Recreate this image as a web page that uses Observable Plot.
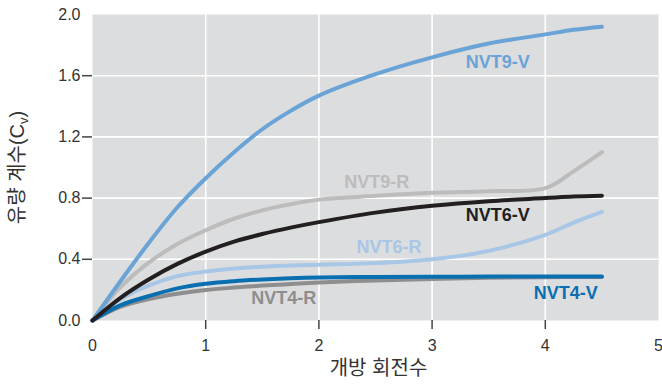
<!DOCTYPE html>
<html><head><meta charset="utf-8">
<script src="https://cdn.jsdelivr.net/npm/d3@7"></script>
<script src="https://cdn.jsdelivr.net/npm/@observablehq/plot@0.6"></script>
<style>body{margin:0;background:#fff}</style>
</head><body><div id="chart"></div>
<script>
// Data
const turns  = [0, 0.25, 0.5, 0.75, 1, 1.25, 1.5, 1.75, 2, 2.5, 3, 3.5, 4, 4.25, 4.5];
const nvt9R  = [0, 0.22, 0.38, 0.50, 0.59, 0.665, 0.72, 0.76, 0.79, 0.815, 0.835, 0.845, 0.865, 0.975, 1.10];
const nvt9V  = [0, 0.26, 0.51, 0.74, 0.93, 1.10, 1.25, 1.37, 1.47, 1.61, 1.72, 1.81, 1.87, 1.90, 1.92];
const nvt6R  = [0, 0.14, 0.23, 0.29, 0.32, 0.34, 0.352, 0.36, 0.365, 0.375, 0.40, 0.455, 0.56, 0.64, 0.71];
const nvt4R  = [0, 0.09, 0.14, 0.175, 0.20, 0.215, 0.228, 0.238, 0.248, 0.262, 0.272, 0.28, 0.283, 0.284, 0.285];
const nvt4V  = [0, 0.10, 0.16, 0.21, 0.24, 0.257, 0.268, 0.276, 0.281, 0.285, 0.286, 0.287, 0.287, 0.287, 0.287];
const nvt6V  = [0, 0.15, 0.27, 0.37, 0.45, 0.515, 0.565, 0.607, 0.643, 0.705, 0.75, 0.78, 0.80, 0.81, 0.815];

const seriesNames  = ["NVT9-R", "NVT9-V", "NVT6-R", "NVT4-R", "NVT4-V", "NVT6-V"];
const seriesValues = [nvt9R, nvt9V, nvt6R, nvt4R, nvt4V, nvt6V];
const seriesColors = ["#bcbcbc", "#6aa3d6", "#a8c6e6", "#8e8e8e", "#0a6fb1", "#231f20"];

// label anchor positions in data units
const labelX = [2.51, 3.58, 2.62, 1.69, 4.18, 3.58];
const labelY = [0.904, 1.69, 0.477, 0.144, 0.178, 0.686];

const xTicks = [0, 1, 2, 3, 4, 5];
const yTicks = [0, 0.4, 0.8, 1.2, 1.6, 2.0];
const xGrid  = [1, 2, 3, 4];
const yGrid  = [0.4, 0.8, 1.2, 1.6];

const xTitle = "개방 회전수";
const yTitle = "유량 계수(Cv)";

const rows = seriesNames.flatMap((s, i) => turns.map((t, j) => ({series: s, x: t, y: seriesValues[i][j]})));
const labels = seriesNames.map((s, i) => ({series: s, x: labelX[i], y: labelY[i]}));

const plot = Plot.plot({
  width: 662,
  height: 388,
  marginLeft: 92,
  marginRight: 4,
  marginTop: 14,
  marginBottom: 68,
  style: {fontFamily: "'Liberation Sans', Arial, 'Noto Sans CJK KR', sans-serif", background: "#fff"},
  x: {domain: [0, 5], label: null},
  y: {domain: [0, 2], label: null},
  color: {domain: seriesNames, range: seriesColors},
  marks: [
    Plot.frame({fill: "#dcdddf", stroke: null}),
    Plot.ruleX(xGrid, {stroke: "#fff", strokeWidth: 1.6}),
    Plot.ruleY(yGrid, {stroke: "#fff", strokeWidth: 1.6}),
    Plot.axisY(yTicks, {tickSize: 0, tickPadding: 12, tickFormat: d3.format(".1f"), fontSize: 16, fill: "#333", label: null}),
    Plot.axisY(yGrid, {tickSize: 10, tickFormat: () => "", stroke: "#444", strokeWidth: 1.5, label: null}),
    Plot.axisX(xTicks, {tickSize: 0, tickPadding: 19, tickFormat: d3.format("d"), fontSize: 16, fill: "#333", label: null}),
    Plot.axisX(xGrid, {tickSize: 9, tickFormat: () => "", stroke: "#444", strokeWidth: 1.5, label: null}),
    Plot.line(rows, {x: "x", y: "y", z: "series", stroke: "series", strokeWidth: 4, curve: "catmull-rom"}),
    Plot.text(labels, {x: "x", y: "y", text: "series", fill: "series", fontSize: 18, fontWeight: "bold"}),
    Plot.text([xTitle], {frameAnchor: "bottom", lineAnchor: "middle", dy: 48, dx: 3, fontSize: 20, fill: "#333"}),
    Plot.text([yTitle], {frameAnchor: "left", lineAnchor: "middle", textAnchor: "middle", rotate: -90, dx: -75, fontSize: 20, fill: "#333", className: "ytitle"})
  ]
});
document.getElementById("chart").appendChild(plot);

// subscript v in the y title
const t = d3.select(plot).select(".ytitle text");
if (!t.empty()) {
  const s = t.text();
  const k = s.indexOf("Cv");
  if (k >= 0) {
    t.text(null);
    t.append("tspan").text(s.slice(0, k + 1));
    t.append("tspan").attr("font-size", 13).attr("dy", 4).text("v");
    t.append("tspan").attr("dy", -4).text(s.slice(k + 2));
  }
}
</script>
</body></html>
